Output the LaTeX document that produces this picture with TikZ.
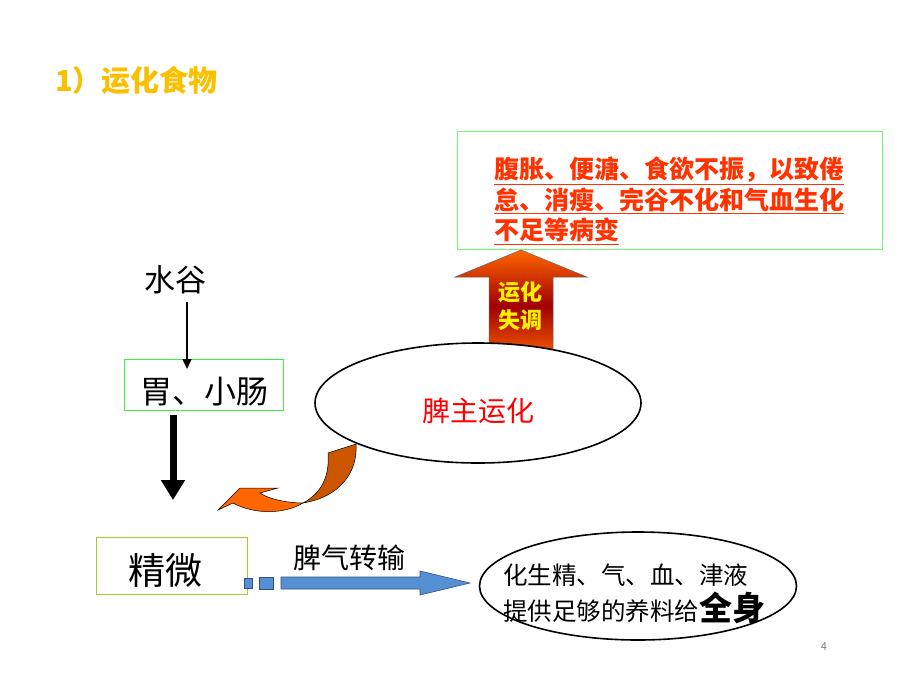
\documentclass[tikz,border=0pt]{standalone}
\usepackage{fontspec}
\setmainfont{Noto Sans CJK SC}
\usetikzlibrary{arrows.meta,shapes.geometric}
\definecolor{gold}{RGB}{250,192,0}
\definecolor{boxgreen}{RGB}{110,250,110}
\definecolor{limebox}{RGB}{160,205,40}
\definecolor{redtxt}{RGB}{255,50,0}
\definecolor{arrorange}{RGB}{255,102,0}
\definecolor{arrdark}{RGB}{160,0,0}
\definecolor{lightor}{RGB}{255,102,0}
\definecolor{darkor}{RGB}{204,85,0}
\definecolor{blueA}{RGB}{85,145,210}
\definecolor{blueB}{RGB}{50,80,130}
\tikzset{
  plain/.style={inner sep=0pt},
  greenbox/.style={draw=boxgreen, line width=1.2pt},
  oval/.style={ellipse, draw=black, line width=1.6pt, fill=white, inner sep=0pt},
  thinout/.style={draw=black, line width=0.5pt}
}
\begin{document}
\begin{tikzpicture}[x=1pt,y=-1pt]
\useasboundingbox[fill=white] (0,0) rectangle (900,675);

% title
\node[plain, anchor=west, text=gold, font=\fontsize{29}{31}\selectfont\bfseries] (title) at (55,80) {1）运化食物};

% result box
\node[greenbox, anchor=north west, minimum width=425pt, minimum height=118pt] (effbox) at (457,131) {};
\node[plain, anchor=north west, align=left, text=redtxt, font=\fontsize{25}{30.5}\selectfont\bfseries] (efftext) at (494,157)
  {\underline{腹胀、便溏、食欲不振，以致倦}\\\underline{怠、消瘦、完谷不化和气血生化}\\\underline{不足等病变}};

% up arrow (shaded)
\shade[top color=arrorange, bottom color=arrorange, middle color=arrdark, draw=black!60, line width=0.5pt]
  (521,250) -- (587,277) -- (553,277) -- (553,362) -- (489,362) -- (489,277) -- (455,277) -- cycle;
\node[plain, align=center, text=yellow, font=\fontsize{22}{28}\selectfont\bfseries] (shitiao) at (520,306) {运化\\失调};

% curved arrow
\filldraw[fill=lightor, thinout]
  (303,503) .. controls (290,503) and (270,500) .. (260,493) -- (278,488) -- (240,488) -- (218,510) -- (233,503)
  .. controls (255,515) and (285,514) .. (303,503) -- cycle;
\filldraw[fill=darkor, thinout]
  (328,453) -- (356,444) .. controls (358,472) and (340,497) .. (303,503)
  .. controls (320,494) and (330,478) .. (328,453) -- cycle;

% spleen ellipse
\node[oval, minimum width=326pt, minimum height=120pt] (pi) at (478,403) {};
\node[plain, text=red, font=\fontsize{28}{30}\selectfont] (pilabel) at (478,411) {脾主运化};

% left column
\node[plain, font=\fontsize{31}{33}\selectfont] (shuigu) at (175,280) {水谷};
\node[greenbox, draw={rgb,255:red,60;green,240;blue,60}, anchor=north west, minimum width=159pt, minimum height=51pt] (wei) at (124,359) {};
\node[plain, font=\fontsize{32}{34}\selectfont] (weitext) at (204,392) {胃、小肠};
\coordinate (a1s) at (187,302);
\coordinate (a1e) at (187,369);
\draw[line width=1.6pt, -{Triangle[length=10pt,width=9pt]}] (a1s) -- (a1e);
\coordinate (a2s) at (173,415);
\coordinate (a2e) at (173,500);
\draw[line width=7pt, -{Triangle[length=20pt,width=23pt]}] (a2s) -- (a2e);

\node[draw=limebox, line width=1.2pt, anchor=north west, minimum width=151pt, minimum height=57pt] (jingwei) at (96,537) {};
\node[plain, font=\fontsize{37}{39}\selectfont] (jwtext) at (165,570) {精微};

% blue dashed arrow
\filldraw[fill=blueA, draw=blueB, line width=0.6pt] (244,578) rectangle (252,588);
\filldraw[fill=blueA, draw=blueB, line width=0.6pt] (259,577) rectangle (273,589);
\filldraw[fill=blueA, draw=blueB, line width=0.6pt]
  (281,577) -- (420,577) -- (420,571) -- (470,583) -- (420,595) -- (420,589) -- (281,589) -- cycle;
\node[plain, font=\fontsize{28}{30}\selectfont] (zhuanshu) at (349,558) {脾气转输};

% result ellipse
\node[oval, minimum width=317pt, minimum height=108pt] (quanshen) at (638,586) {};
\node[plain, anchor=base west, font=\fontsize{24.5}{26}\selectfont] (q1) at (503,584) {化生精、气、血、津液};
\node[plain, anchor=base west, font=\fontsize{24.5}{26}\selectfont] (q2) at (503,620) {提供足够的养料给{\fontsize{33}{35}\selectfont\bfseries 全身}};

\node[plain, text=gray, font=\fontsize{11}{12}\selectfont] (pg) at (824,647) {4};
\end{tikzpicture}
\end{document}
